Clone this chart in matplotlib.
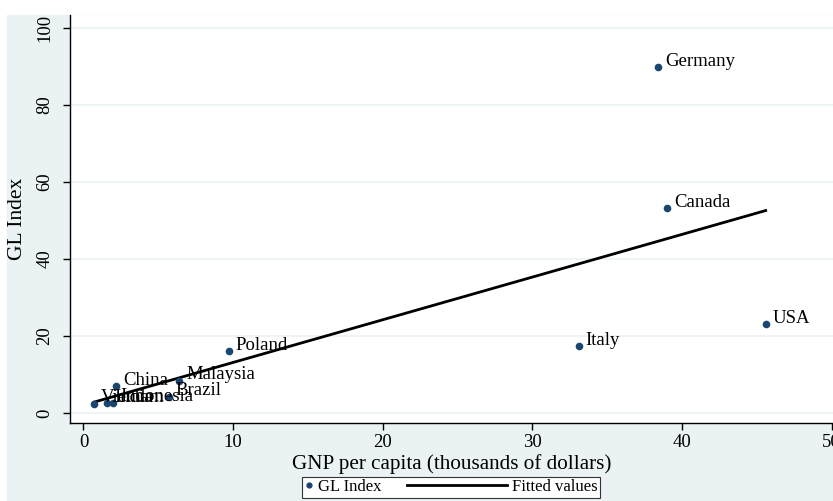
import matplotlib
matplotlib.use("Agg")
import matplotlib.pyplot as plt
import numpy as np
from matplotlib.patches import Rectangle
from matplotlib.lines import Line2D
from matplotlib.legend_handler import HandlerLine2D

plt.rcParams['font.family'] = ['Liberation Serif', 'DejaVu Serif']

countries = ['Vietnam', 'India', 'Indonesia', 'China', 'Brazil', 'Malaysia',
             'Poland', 'Italy', 'Germany', 'Canada', 'USA']
gnp = [0.7, 1.6, 2.0, 2.2, 5.7, 6.4, 9.7, 33.1, 38.4, 39.0, 45.6]
gl_index = [2.4, 2.5, 2.7, 7.0, 4.2, 8.4, 16.1, 17.4, 89.9, 53.2, 23.1]
yticks = [0, 20, 40, 60, 80, 100]
xticks = [0, 10, 20, 30, 40, 50]

bg = '#EAF2F3'
navy = '#1A476F'

W, H = 833, 501
fig = plt.figure(figsize=(W / 100, H / 100), dpi=100, facecolor='white')
fig.patches.append(Rectangle((7 / W, 0), 1, 486 / H, transform=fig.transFigure,
                             color=bg, zorder=-1))

ax = fig.add_axes([70 / W, 78 / H, 763 / W, 408 / H])
ax.set_facecolor('white')

# fitted values from OLS
b, a = np.polyfit(gnp, gl_index, 1)
xs = np.array([min(gnp), max(gnp)])
ax.plot(xs, a + b * xs, color='black', lw=2, zorder=2)

ax.plot(gnp, gl_index, 'o', color=navy, ms=5.5, mew=0, zorder=3,
        linestyle='none')
for c, x, y in zip(countries, gnp, gl_index):
    ax.annotate(c, (x, y), xytext=(5, 1), textcoords='offset points',
                ha='left', va='baseline', fontsize=13.5, zorder=4)

ax.set_xlim(-0.9, 50.1)
ax.set_ylim(-2.6, 103.4)
ax.set_xticks(xticks)
ax.set_yticks(yticks)
ax.yaxis.grid(True, color=bg, lw=1.2)
ax.set_axisbelow(True)
for s in ['top', 'right']:
    ax.spines[s].set_visible(False)
for s in ['left', 'bottom']:
    ax.spines[s].set_linewidth(1.0)
ax.tick_params(direction='out', length=5, width=1, labelsize=13.5, pad=3)
ax.tick_params(axis='y', pad=7)
for t in ax.get_yticklabels():
    t.set_rotation(90)
    t.set_va('center')

ax.set_xlabel('GNP per capita (thousands of dollars)', fontsize=15.2, labelpad=2)
ax.set_ylabel('GL Index', fontsize=15.5, labelpad=7)


class LongLine(HandlerLine2D):
    def create_artists(self, legend, orig_handle, xdescent, ydescent, width,
                       height, fontsize, trans):
        extra = 5.5 * fontsize
        return super().create_artists(legend, orig_handle, xdescent + extra,
                                      ydescent, width + extra, height,
                                      fontsize, trans)


class LeftMarker(HandlerLine2D):
    def get_xdata(self, legend, xdescent, ydescent, width, height, fontsize):
        xd = np.array([-xdescent, -xdescent + width])
        return xd, np.array([-xdescent + 0.2 * fontsize])


h_pt = Line2D([], [], marker='o', color=navy, ms=4.5, mew=0, linestyle='none')
h_ln = Line2D([], [], color='black', lw=2)
leg = fig.legend([h_pt, h_ln], ['GL Index', 'Fitted values'], loc='center',
                 bbox_to_anchor=(451 / W, 1 - 487 / H), ncol=2, fontsize=12,
                 handlelength=0.5, handletextpad=0.3, columnspacing=7.0,
                 borderpad=0.15, fancybox=False, framealpha=1,
                 edgecolor='#333333',
                 handler_map={h_ln: LongLine(), h_pt: LeftMarker()})
leg.get_frame().set_linewidth(0.8)

fig.savefig('out.png', dpi=100, facecolor=fig.get_facecolor())
